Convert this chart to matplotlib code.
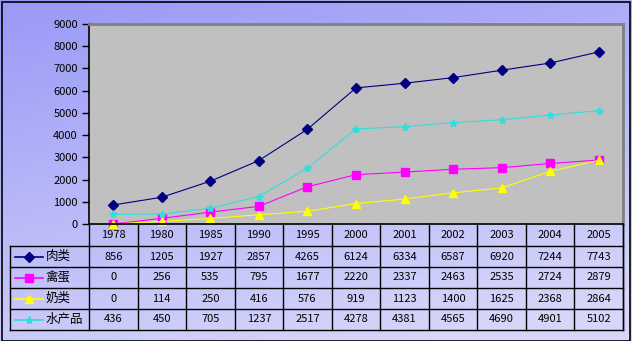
import numpy as np
import matplotlib
matplotlib.use('agg')
import matplotlib.pyplot as plt
from matplotlib.lines import Line2D
from matplotlib.patches import Rectangle

plt.rcParams['font.family'] = ['Noto Sans CJK SC', 'DejaVu Sans']

years = ['1978', '1980', '1985', '1990', '1995', '2000', '2001', '2002', '2003', '2004', '2005']
names = ['肉类', '禽蛋', '奶类', '水产品']
meat = [856, 1205, 1927, 2857, 4265, 6124, 6334, 6587, 6920, 7244, 7743]
eggs = [0, 256, 535, 795, 1677, 2220, 2337, 2463, 2535, 2724, 2879]
milk = [0, 114, 250, 416, 576, 919, 1123, 1400, 1625, 2368, 2864]
fish = [436, 450, 705, 1237, 2517, 4278, 4381, 4565, 4690, 4901, 5102]
series = [meat, eggs, milk, fish]

colors = ['#000080', '#FF00FF', '#FFFF00', '#33DDDD']
markers = ['D', 's', '^', '*']
msizes = [5, 6, 6, 6]

W, H = 632, 341
fig = plt.figure(figsize=(W / 100, H / 100), dpi=100)

# gradient background
bg = fig.add_axes([0, 0, 1, 1], zorder=-10)
yy, xx = np.mgrid[0:1:200j, 0:1:200j]
t = np.clip(0.8 * yy + 0.3 * xx, 0, 1)
c0 = np.array([0.60, 0.60, 0.97])
c1 = np.array([0.84, 0.84, 0.98])
img = c0[None, None, :] * (1 - t[..., None]) + c1[None, None, :] * t[..., None]
bg.imshow(img, extent=[0, 1, 0, 1], aspect='auto', origin='upper')
bg.set_xlim(0, 1)
bg.set_ylim(0, 1)
bg.axis('off')
bg.add_patch(Rectangle((1.5 / W, 0.5 / H), (W - 4) / W, (H - 2) / H,
                       fill=False, edgecolor='black', lw=1.2, transform=bg.transAxes))

# plot area (pixel coords)
x0, x1 = 89, 623
ytop, ybot = 24, 224
ax = fig.add_axes([x0 / W, (H - ybot) / H, (x1 - x0) / W, (ybot - ytop) / H])
ax.set_facecolor('#C0C0C0')
n = len(years)
xs = np.arange(n) + 0.5
for vals, c, m, ms in zip(series, colors, markers, msizes):
    ax.plot(xs, vals, color=c, lw=0.8, marker=m, ms=ms, mec=c, mfc=c, clip_on=False)
ax.set_xlim(0, n)
ax.set_ylim(0, 9000)
ax.set_yticks(range(0, 9001, 1000))
ax.set_xticks([])
ax.tick_params(axis='y', direction='out', length=5, width=1, labelsize=8, pad=3)
for s in ['top', 'right']:
    ax.spines[s].set_color('#808080')
    ax.spines[s].set_linewidth(2)
for s in ['left', 'bottom']:
    ax.spines[s].set_color('black')
    ax.spines[s].set_linewidth(1.2)

# data table
tx0 = 10
row_h = 21
rows_top = 225
tab = fig.add_axes([0, 0, 1, 1], zorder=5)
tab.set_xlim(0, W)
tab.set_ylim(H, 0)
tab.axis('off')
tab.patch.set_alpha(0)
cw = (x1 - x0) / n
tab.plot([x1, x1], [rows_top, rows_top + row_h * 5], color='black', lw=1)
for i in range(n + 1):
    xv = x0 + i * cw
    tab.plot([xv, xv], [ybot, rows_top + row_h * 5], color='black', lw=1)
for r in range(1, 6):
    yv = rows_top + r * row_h
    tab.plot([tx0, x1], [yv, yv], color='black', lw=1)
tab.plot([tx0, tx0], [rows_top + row_h, rows_top + row_h * 5], color='black', lw=1)
for i, yr in enumerate(years):
    tab.text(x0 + (i + 0.5) * cw, rows_top + row_h * 0.5, yr, ha='center', va='center', fontsize=8)
for r, (name, vals, c, m, ms) in enumerate(zip(names, series, colors, markers, msizes)):
    yc = rows_top + (r + 1.5) * row_h
    tab.add_line(Line2D([15, 43], [yc, yc], color=c, lw=1.2))
    tab.plot([29], [yc], marker=m, ms=ms, color=c, mec=c)
    tab.text(46, yc, name, ha='left', va='center', fontsize=9)
    for i, v in enumerate(vals):
        tab.text(x0 + (i + 0.5) * cw, yc, str(v), ha='center', va='center', fontsize=8)

fig.savefig('out.png', dpi=100)
